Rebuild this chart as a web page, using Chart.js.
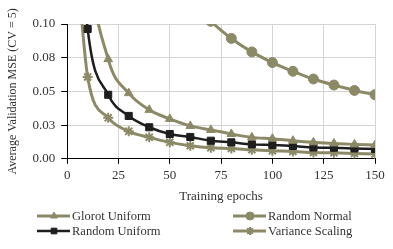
<!DOCTYPE html>
<html>
<head>
<meta charset="utf-8">
<script src="https://cdn.jsdelivr.net/npm/chart.js@4/dist/chart.umd.min.js"></script>
<style>
  html, body { margin: 0; padding: 0; background: #fff; }
  #wrap { width: 393px; height: 249px; position: relative; }
</style>
</head>
<body>
<div id="wrap"><canvas id="grafico"></canvas></div>
<script>
const epocas = [5, 10, 20, 30, 40, 50, 60, 70, 80, 90, 100, 110, 120, 130, 140, 150];
const glorotUniform = [0.30, 0.16, 0.0739, 0.0487, 0.0363, 0.0296, 0.0244, 0.0214, 0.0184, 0.0159, 0.0149, 0.0134, 0.0122, 0.0114, 0.0107, 0.0102];
const randomNormal = [0.60, 0.45, 0.30, 0.22, 0.17, 0.14, 0.118, 0.102, 0.0893, 0.0793, 0.0714, 0.0649, 0.0592, 0.0547, 0.0507, 0.0475];
const randomUniform = [0.20, 0.0963, 0.0475, 0.0318, 0.0234, 0.0184, 0.0162, 0.0134, 0.0122, 0.0107, 0.0102, 0.0095, 0.0084, 0.0082, 0.0077, 0.0072];
const varianceScaling = [0.14, 0.0607, 0.0304, 0.0204, 0.0159, 0.0122, 0.0097, 0.0082, 0.0077, 0.0067, 0.0060, 0.0055, 0.0047, 0.0045, 0.0040, 0.0035];
const etiquetasY = ['0.00', '0.03', '0.05', '0.08', '0.10'];
const nombres = ['Glorot Uniform', 'Random Normal', 'Random Uniform', 'Variance Scaling'];

const oliva = 'rgb(140, 138, 102)';
const negro = 'rgb(30, 30, 30)';
const fuente = "'Liberation Serif', 'Times New Roman', serif";
const colorTexto = '#333333';

function puntos(valores) {
    return epocas.map((e, i) => ({ x: e, y: valores[i] }));
}

function serie(nombre, valores, color, forma, radio, grosor) {
    return {
        label: nombre,
        data: puntos(valores),
        borderColor: color,
        backgroundColor: color,
        borderWidth: grosor,
        pointStyle: forma,
        pointRadius: radio,
        pointBorderWidth: forma === 'star' ? 2 : 1,
        pointBorderColor: color,
        pointBackgroundColor: color,
        cubicInterpolationMode: 'monotone',
        fill: false
    };
}

// leyenda en dos columnas, linea + marcador
const leyenda = {
    id: 'leyenda',
    afterDraw(chart) {
        const ctx = chart.ctx;
        const cols = [37, 233];
        const filas = [216, 231];
        chart.data.datasets.forEach((ds, i) => {
            const x0 = cols[i % 2];
            const y = filas[Math.floor(i / 2)];
            ctx.save();
            ctx.strokeStyle = ds.borderColor;
            ctx.lineWidth = ds.borderWidth;
            ctx.beginPath();
            ctx.moveTo(x0, y);
            ctx.lineTo(x0 + 33, y);
            ctx.stroke();
            ctx.fillStyle = ds.backgroundColor;
            ctx.lineWidth = ds.pointBorderWidth;
            if (Chart.helpers && Chart.helpers.drawPoint) {
                Chart.helpers.drawPoint(ctx, {
                    pointStyle: ds.pointStyle,
                    radius: ds.pointRadius - 1,
                    borderWidth: ds.pointBorderWidth,
                    rotation: 0
                }, x0 + 17, y);
            }
            ctx.fillStyle = colorTexto;
            ctx.font = '12.5px ' + fuente;
            ctx.textBaseline = 'middle';
            ctx.textAlign = 'left';
            ctx.fillText(ds.label, x0 + 35, y + 1);
            ctx.restore();
        });
    }
};

const config = {
    type: 'line',
    data: {
        datasets: [
            serie(nombres[0], glorotUniform, oliva, 'triangle', 5, 3),
            serie(nombres[1], randomNormal, oliva, 'circle', 5, 3),
            serie(nombres[2], randomUniform, negro, 'rect', 5, 2.5),
            serie(nombres[3], varianceScaling, oliva, 'star', 5, 3)
        ]
    },
    options: {
        responsive: true,
        maintainAspectRatio: false,
        animation: false,
        layout: { padding: { top: 24, right: 18, left: 6, bottom: 45 } },
        plugins: {
            legend: { display: false },
            tooltip: { enabled: false }
        },
        scales: {
            x: {
                type: 'linear',
                min: 0,
                max: 150,
                ticks: {
                    stepSize: 25,
                    color: colorTexto,
                    font: { family: fuente, size: 13 },
                    padding: 4
                },
                grid: { color: '#d4d4d4', tickColor: '#000', tickLength: 5 },
                border: { color: '#000', width: 1 },
                title: {
                    display: true,
                    text: 'Training epochs',
                    color: colorTexto,
                    font: { family: fuente, size: 13 },
                    padding: { top: 1, bottom: 0 }
                }
            },
            y: {
                min: 0,
                max: 0.1,
                ticks: {
                    stepSize: 0.025,
                    color: colorTexto,
                    font: { family: fuente, size: 13 },
                    padding: 6,
                    callback: (v, i) => etiquetasY[i]
                },
                grid: { color: '#d4d4d4', tickColor: '#000', tickLength: 6 },
                border: { color: '#000', width: 1 },
                title: {
                    display: true,
                    text: 'Average Validation MSE (CV = 5)',
                    color: colorTexto,
                    font: { family: fuente, size: 12 },
                    padding: { top: 0, bottom: 6 }
                }
            }
        }
    },
    plugins: [leyenda]
};

const miGrafico = new Chart(document.getElementById('grafico'), config);
</script>
</body>
</html>
